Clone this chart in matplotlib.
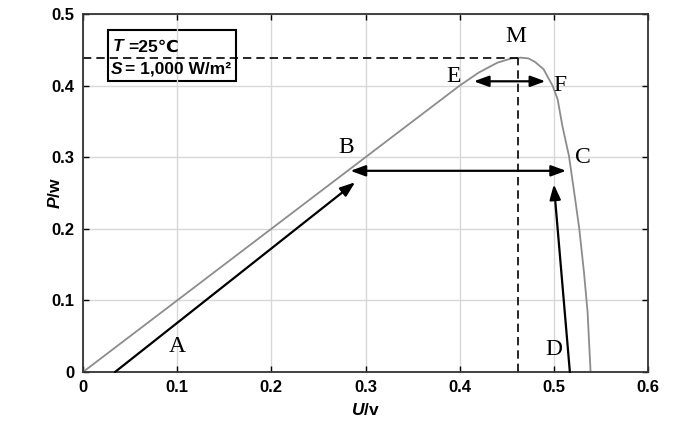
import matplotlib
matplotlib.use('Agg')
from matplotlib import pyplot as pl

pl.rcParams['mathtext.fontset'] = 'custom'
pl.rcParams['mathtext.rm'] = 'Liberation Sans:bold'
pl.rcParams['mathtext.it'] = 'Liberation Sans:italic:bold'

# P-U curve
u = [0, 0.05, 0.1, 0.15, 0.2, 0.25, 0.3, 0.35, 0.38, 0.4, 0.42, 0.44,
     0.455, 0.465, 0.473, 0.48, 0.489, 0.4986, 0.504, 0.509, 0.516,
     0.5216, 0.527, 0.532, 0.5358, 0.539]
p = [0, 0.05, 0.1, 0.15, 0.2, 0.25, 0.3, 0.35, 0.38, 0.40, 0.418, 0.432,
     0.438, 0.439, 0.438, 0.433, 0.423, 0.40, 0.381, 0.344, 0.302,
     0.251, 0.2, 0.139, 0.084, 0.0]

# MPP point
u_mpp = 0.462
p_mpp = 0.4385

# arrows: (start, end)
arrow_a = [(0.034, 0.0), (0.289, 0.265)]
arrow_d = [(0.517, 0.0), (0.500, 0.262)]
arrow_bc = [(0.284, 0.281), (0.513, 0.281)]
arrow_ef = [(0.415, 0.406), (0.491, 0.406)]

point_labels = ['A', 'B', 'C', 'D', 'E', 'F', 'M']
label_u = [0.100, 0.279, 0.531, 0.500, 0.393, 0.506, 0.460]
label_p = [0.035, 0.314, 0.300, 0.032, 0.413, 0.400, 0.468]

fig = pl.figure(figsize=(6.83, 4.24), dpi=100)
ax = fig.add_axes([0.1215, 0.1226, 0.8273, 0.8444])

ax.plot(u, p, color='#8c8c8c', linewidth=1.3)

ax.plot([0, u_mpp], [p_mpp, p_mpp], color='k', linestyle=(0, (5, 3)), linewidth=1.2)
ax.plot([u_mpp, u_mpp], [0, p_mpp], color='k', linestyle=(0, (5, 3)), linewidth=1.2)

head = dict(arrowstyle='-|>,head_length=0.9,head_width=0.33', color='k',
            lw=1.6, shrinkA=0, shrinkB=0)
ax.annotate('', xy=arrow_a[1], xytext=arrow_a[0], arrowprops=head)
ax.annotate('', xy=arrow_d[1], xytext=arrow_d[0], arrowprops=head)
dbl = dict(arrowstyle='<|-|>,head_length=0.9,head_width=0.33', color='k',
           lw=1.6, shrinkA=0, shrinkB=0)
ax.annotate('', xy=arrow_bc[1], xytext=arrow_bc[0], arrowprops=dbl)
ax.annotate('', xy=arrow_ef[1], xytext=arrow_ef[0], arrowprops=dbl)

for name, x, y in zip(point_labels, label_u, label_p):
    ax.text(x, y, name, family='Liberation Serif', fontsize=17,
            ha='center', va='center')

box_font = dict(family=['Liberation Sans', 'DejaVu Sans'], fontsize=12.5,
                fontweight='bold', va='center')
ax.text(0.032, 0.454, 'T', style='italic', **box_font)
ax.annotate('=25℃', xy=(0.032, 0.454), xytext=(11, 0),
            textcoords='offset points', **box_font)
ax.text(0.030, 0.423, 'S', style='italic', **box_font)
ax.annotate('= 1,000 W/m²', xy=(0.030, 0.423), xytext=(10, 0),
            textcoords='offset points', **box_font)
box = pl.Rectangle((0.0266, 0.406), 0.1364, 0.072, fill=False,
                   edgecolor='k', linewidth=1.5)
ax.add_patch(box)

ax.set_xlim(0, 0.6)
ax.set_ylim(0, 0.5)
ax.set_xticks([0, 0.1, 0.2, 0.3, 0.4, 0.5, 0.6])
ax.set_xticklabels(['0', '0.1', '0.2', '0.3', '0.4', '0.5', '0.6'])
ax.set_yticks([0, 0.1, 0.2, 0.3, 0.4, 0.5])
ax.set_yticklabels(['0', '0.1', '0.2', '0.3', '0.4', '0.5'])
for lab in ax.get_xticklabels() + ax.get_yticklabels():
    lab.set_family('Liberation Sans')
    lab.set_fontweight('bold')
    lab.set_fontsize(12)
ax.tick_params(direction='in', length=4, top=True, right=True, width=1, pad=6)
ax.grid(color='#d8d8d8', linewidth=1)
for s in ax.spines.values():
    s.set_linewidth(1.3)
    s.set_color('#333333')

ax.set_xlabel(r'$U$/v', fontsize=12.5, fontweight='bold', family='Liberation Sans')
ax.set_ylabel(r'$P$/w', fontsize=12.5, fontweight='bold', family='Liberation Sans')
ax.yaxis.set_label_coords(-0.036, 0.5)
ax.xaxis.set_label_coords(0.5, -0.085)

fig.savefig('out.png', dpi=100)
